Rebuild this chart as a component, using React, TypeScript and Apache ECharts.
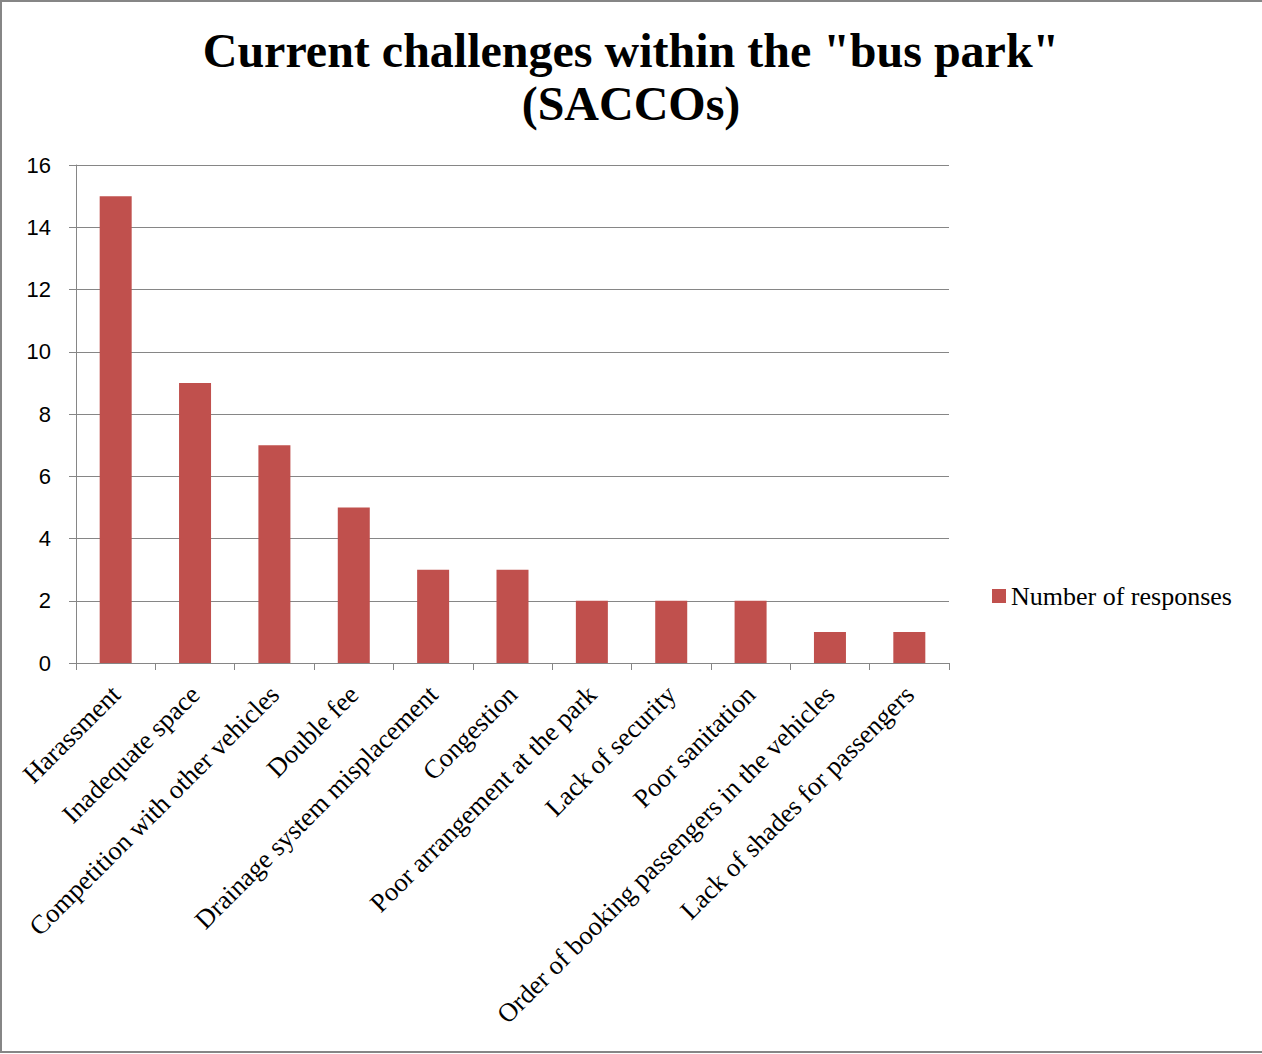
import React, { useEffect, useRef } from "react";
import * as echarts from "echarts";

const categories = [
  "Harassment",
  "Inadequate space",
  "Competition with other vehicles",
  "Double fee",
  "Drainage system misplacement",
  "Congestion",
  "Poor arrangement at the park",
  "Lack of security",
  "Poor sanitation",
  "Order of booking passengers in the vehicles",
  "Lack of shades for passengers",
];
const responses = [15, 9, 7, 5, 3, 3, 2, 2, 2, 1, 1];
const seriesName = "Number of responses";
const titleText = 'Current challenges within the "bus park"\n(SACCOs)';

const SERIF = "'Liberation Serif', 'Times New Roman', serif";
const SANS = "'Liberation Sans', Arial, sans-serif";
const GRAY = "#868686";

export default function App() {
  const ref = useRef<HTMLDivElement>(null);

  useEffect(() => {
    document.body.style.margin = "0";
    const chart = echarts.init(ref.current!, null, { renderer: "svg" });
    chart.setOption({
      animation: false,
      backgroundColor: "#ffffff",
      title: {
        text: titleText,
        left: "center",
        top: 19,
        textStyle: {
          fontFamily: SERIF,
          fontSize: 48,
          fontWeight: "bold",
          color: "#000",
          lineHeight: 53,
          align: "center",
        },
      },
      legend: {
        left: 992,
        top: 583,
        padding: 0,
        icon: "rect",
        itemWidth: 14,
        itemHeight: 14,
        textStyle: { fontFamily: SERIF, fontSize: 26, color: "#000" },
        data: [seriesName],
      },
      grid: { left: 76, right: 313, top: 165, bottom: 391, containLabel: false },
      xAxis: {
        type: "category",
        data: categories,
        boundaryGap: true,
        axisLine: { lineStyle: { color: GRAY, width: 1 } },
        axisTick: { show: true, length: 7, lineStyle: { color: GRAY } },
        axisLabel: {
          rotate: 45,
          interval: 0,
          margin: 27,
          fontFamily: SERIF,
          fontSize: 26.5,
          color: "#000",
        },
      },
      yAxis: {
        type: "value",
        min: 0,
        max: 16,
        interval: 2,
        axisLine: { show: true, lineStyle: { color: GRAY, width: 1 } },
        axisTick: { show: true, length: 7, lineStyle: { color: GRAY } },
        axisLabel: { margin: 25, fontFamily: SANS, fontSize: 22, color: "#000" },
        splitLine: { show: true, lineStyle: { color: GRAY, width: 1 } },
      },
      series: [
        {
          name: seriesName,
          type: "bar",
          data: responses,
          barWidth: 32,
          itemStyle: { color: "#C0504D" },
        },
      ],
      graphic: [
        {
          type: "rect",
          shape: { x: 1, y: 1, width: 1270, height: 1051 },
          style: { fill: "none", stroke: GRAY, lineWidth: 2 },
          silent: true,
        },
      ],
    });
    return () => chart.dispose();
  }, []);

  return <div ref={ref} style={{ width: 1262, height: 1054 }} />;
}
